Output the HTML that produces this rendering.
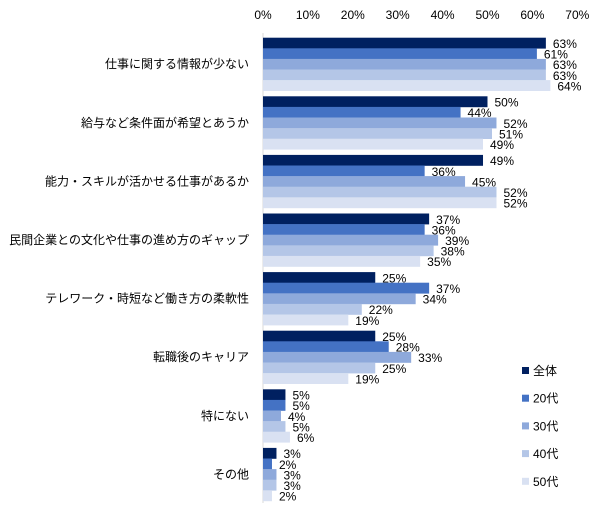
<!DOCTYPE html>
<html><head><meta charset="utf-8"><style>
body{margin:0;background:#fff;}
svg text{font-family:"Liberation Sans","Noto Sans CJK JP",sans-serif;font-size:12px;fill:#000;}
</style></head><body>
<svg id="chart" width="606" height="518" xmlns="http://www.w3.org/2000/svg"></svg>
<script>
const categories=["仕事に関する情報が少ない","給与など条件面が希望とあうか","能力・スキルが活かせる仕事があるか","民間企業との文化や仕事の進め方のギャップ","テレワーク・時短など働き方の柔軟性","転職後のキャリア","特にない","その他"];
const seriesNames=["全体","20代","30代","40代","50代"];
const s0=[63,50,49,37,25,25,5,3];
const s1=[61,44,36,36,37,28,5,2];
const s2=[63,52,45,39,34,33,4,3];
const s3=[63,51,52,38,22,25,5,3];
const s4=[64,49,52,35,19,19,6,2];
const ticks=[0,10,20,30,40,50,60,70];
const series=[s0,s1,s2,s3,s4];
const colors=["#002060","#4472C4","#8EA9DB","#B4C6E7","#D9E1F2"];
const NS="http://www.w3.org/2000/svg";
const svg=document.getElementById('chart');
const x0=263,pxPer=4.49;
const xs=v=>x0+v*pxPer;
const gTop=37.7,gPitch=58.6,barH=10.6;
function mk(t,a){const e=document.createElementNS(NS,t);for(const k in a)e.setAttribute(k,a[k]);svg.appendChild(e);return e;}
ticks.forEach(t=>{const e=mk('text',{x:xs(t),y:19,'text-anchor':'middle'});e.textContent=t+'%';

});
const ax=mk('line',{x1:x0,x2:x0,y1:33,y2:503,stroke:'#d9d9d9','stroke-width':1});


categories.forEach((c,i)=>{
 const gy=gTop+i*gPitch;
 const lab=mk('text',{x:249,y:gy+barH*2.5+4,'text-anchor':'end'});lab.textContent=c;
 
 
 series.forEach((s,j)=>{
  const y=gy+j*barH;
  const r=mk('rect',{x:x0,y:y,width:xs(s[i])-x0,height:barH+0.3,fill:colors[j]});
  
  
  const t=mk('text',{x:xs(s[i])+7,y:y+barH/2+5});t.textContent=s[i]+'%';
  
  
 });
});
seriesNames.forEach((n,j)=>{
 const y=371+j*27.7;
 const r=mk('rect',{x:522,y:y-4,width:7,height:7,fill:colors[j]});
 
 
 const t=mk('text',{x:533,y:y+4});t.textContent=n;
 
 
});
</script>
</body></html>
